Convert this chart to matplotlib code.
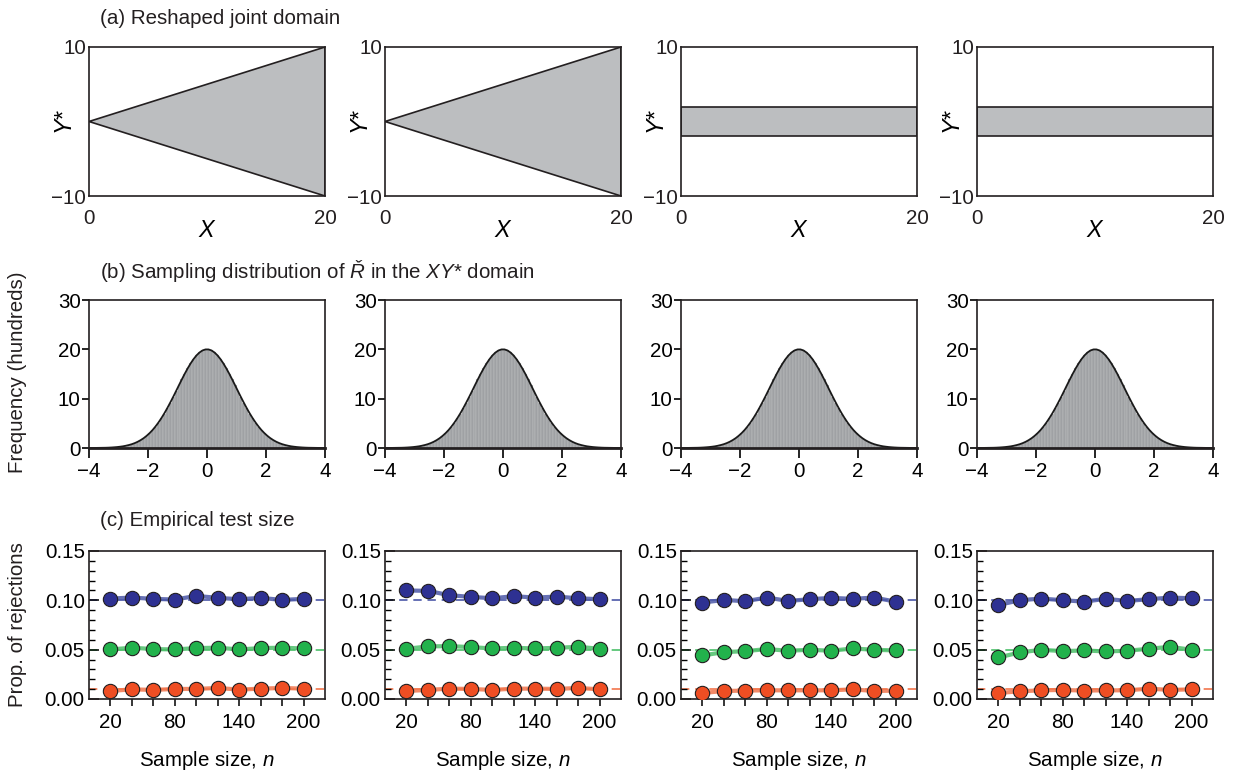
import matplotlib
matplotlib.use("Agg")
import matplotlib.pyplot as plt
import numpy as np
from matplotlib.ticker import FixedLocator, NullFormatter

plt.rcParams['font.family'] = ['Liberation Sans', 'DejaVu Sans']
plt.rcParams['mathtext.fontset'] = 'custom'
plt.rcParams['mathtext.rm'] = 'Liberation Sans'
plt.rcParams['mathtext.it'] = 'Liberation Sans:italic'
plt.rcParams['mathtext.bf'] = 'Liberation Sans:bold'
plt.rcParams['axes.unicode_minus'] = True

# ---------------- data ----------------
# (a) reshaped joint domain: vertices of the shaded regions (X, Y*)
triangle_x = [0, 20, 20]
triangle_y = [0, 10, -10]
band_x = [0, 20, 20, 0]
band_y = [-2, -2, 2, 2]
domain_shapes = ['triangle', 'triangle', 'band', 'band']

# (b) histogram of R-check (frequency in hundreds), bin width 0.1 over [-4, 4]
bin_edges = [round(-4 + 0.1 * i, 1) for i in range(81)]
half_freq = [19.98, 19.78, 19.38, 18.81, 18.07, 17.19, 16.19, 15.10, 13.94, 12.74,
             11.52, 10.32, 9.16, 8.04, 6.99, 6.02, 5.13, 4.33, 3.61, 2.99,
             2.45, 1.98, 1.59, 1.26, 0.99, 0.77, 0.60, 0.46, 0.34, 0.26,
             0.19, 0.14, 0.10, 0.07, 0.05, 0.04, 0.03, 0.02, 0.01, 0.01]
freq_hundreds = half_freq[::-1] + half_freq

# (c) empirical test size
sample_sizes = [20, 40, 60, 80, 100, 120, 140, 160, 180, 200]
nominal = [0.10, 0.05, 0.01]
rej_010 = [
    [0.1018, 0.1028, 0.1015, 0.1008, 0.1045, 0.1025, 0.1011, 0.1025, 0.1004, 0.1015],
    [0.1100, 0.1096, 0.1052, 0.1035, 0.1021, 0.1042, 0.1028, 0.1038, 0.1021, 0.1011],
    [0.0977, 0.1004, 0.0991, 0.1028, 0.0994, 0.1011, 0.1025, 0.1015, 0.1028, 0.0987],
    [0.0953, 0.1001, 0.1018, 0.1001, 0.0987, 0.1015, 0.0994, 0.1011, 0.1028, 0.1021],
]
rej_005 = [
    [0.0502, 0.0520, 0.0506, 0.0502, 0.0516, 0.0520, 0.0502, 0.0516, 0.0520, 0.0512],
    [0.0509, 0.0533, 0.0536, 0.0526, 0.0512, 0.0519, 0.0512, 0.0519, 0.0529, 0.0509],
    [0.0441, 0.0475, 0.0485, 0.0506, 0.0489, 0.0499, 0.0489, 0.0512, 0.0499, 0.0492],
    [0.0421, 0.0472, 0.0499, 0.0485, 0.0492, 0.0482, 0.0489, 0.0509, 0.0529, 0.0499],
]
rej_001 = [
    [0.0081, 0.0098, 0.0092, 0.0102, 0.0102, 0.0112, 0.0095, 0.0105, 0.0112, 0.0105],
    [0.0081, 0.0092, 0.0105, 0.0102, 0.0092, 0.0105, 0.0105, 0.0102, 0.0112, 0.0098],
    [0.0061, 0.0081, 0.0085, 0.0088, 0.0088, 0.0088, 0.0088, 0.0098, 0.0081, 0.0085],
    [0.0061, 0.0078, 0.0088, 0.0092, 0.0085, 0.0088, 0.0088, 0.0105, 0.0092, 0.0098],
]

# ---------------- styling ----------------
W, H = 1235, 775
FS = 14.8
SPINE = '#231f20'
marker_colors = ['#2e3192', '#22b24c', '#ef4e23']
line_colors = ['#4c58a8', '#4cc06a', '#f2764d']
fill_gray = '#bcbec0'
bar_gray = '#9fa1a4'

fig = plt.figure(figsize=(W / 100, H / 100), dpi=100)

lefts = [89, 385, 681, 977]
pw = 236
rows = {'a': (47, 196), 'b': (300, 448), 'c': (551, 699)}


def add_ax(left, top, bottom):
    return fig.add_axes([left / W, 1 - bottom / H, pw / W, (bottom - top) / H])


def style_spines(ax, lw=1.2):
    for s in ax.spines.values():
        s.set_color(SPINE)
        s.set_linewidth(lw)


# ---------- row (a) ----------
for i, left in enumerate(lefts):
    ax = add_ax(left, *rows['a'])
    if domain_shapes[i] == 'triangle':
        ax.fill(triangle_x, triangle_y, facecolor=fill_gray, edgecolor=SPINE, lw=1.2)
    else:
        ax.fill(band_x, band_y, facecolor=fill_gray, edgecolor=SPINE, lw=1.2)
    ax.set_xlim(0, 20)
    ax.set_ylim(-10, 10)
    ax.set_xticks([0, 20])
    ax.set_yticks([-10, 10])
    ax.tick_params(length=0, labelsize=FS, colors='#231f20')
    ax.tick_params(axis='x', pad=9)
    ax.tick_params(axis='y', pad=2)
    ax.set_xlabel('$X$', fontsize=FS + 2, va='center')
    ax.xaxis.set_label_coords(0.5, -0.23)
    ax.set_ylabel('$Y$*', fontsize=FS + 2, va='center')
    ax.yaxis.set_label_coords(-0.1, 0.5)
    style_spines(ax)

fig.text(100 / W, 1 - 18 / H, '(a) Reshaped joint domain', fontsize=FS,
         ha='left', va='center', color='#231f20')

# ---------- row (b) ----------
centers = [(bin_edges[k] + bin_edges[k + 1]) / 2 for k in range(len(freq_hundreds))]
widths = [bin_edges[k + 1] - bin_edges[k] for k in range(len(freq_hundreds))]
for i, left in enumerate(lefts):
    ax = add_ax(left, *rows['b'])
    ax.bar(centers, freq_hundreds, width=widths, color=bar_gray,
           edgecolor='#e6e6e6', linewidth=0.15, zorder=2)
    ax.plot([bin_edges[0]] + centers + [bin_edges[-1]],
            [0] + freq_hundreds + [0], color='#1a1a1a', lw=1.3, zorder=3)
    ax.set_xlim(-4, 4)
    ax.set_ylim(0, 30)
    ax.set_xticks([-4, -2, 0, 2, 4])
    ax.set_yticks([0, 10, 20, 30])
    ax.tick_params(axis='x', direction='out', length=7, width=1.2, labelsize=FS, pad=3)
    ax.tick_params(axis='y', direction='out', length=5, width=1.2, labelsize=FS, pad=1)
    style_spines(ax)
    ax.spines['bottom'].set_linewidth(2.0)
    ax.spines['bottom'].set_zorder(4)

fig.text(100 / W, 1 - 271 / H,
         r'(b) Sampling distribution of $Ř$ in the $XY$* domain',
         fontsize=FS, ha='left', va='center', color='#231f20')
fig.text(18 / W, 1 - 372 / H, 'Frequency (hundreds)', fontsize=FS,
         rotation=90, ha='center', va='center', color='#231f20')

# ---------- row (c) ----------
series = [rej_010, rej_005, rej_001]
for i, left in enumerate(lefts):
    ax = add_ax(left, *rows['c'])
    for j in range(3):
        ax.axhline(nominal[j], color=line_colors[j], lw=1.2, ls=(0, (5, 3.5)), zorder=1)
        ax.plot(sample_sizes, series[j][i], color=line_colors[j], lw=3.0,
                alpha=0.85, zorder=2, solid_capstyle='round')
        ax.plot(sample_sizes, series[j][i], ls='none', marker='o', ms=10.3,
                mfc=marker_colors[j], mec='#231f20', mew=0.8, zorder=3)
    ax.set_xlim(0, 220)
    ax.set_ylim(0, 0.15)
    ax.xaxis.set_major_locator(FixedLocator([20, 80, 140, 200]))
    ax.xaxis.set_minor_locator(FixedLocator([40, 60, 100, 120, 160, 180]))
    ax.xaxis.set_minor_formatter(NullFormatter())
    ax.yaxis.set_major_locator(FixedLocator([0.0, 0.05, 0.10, 0.15]))
    ax.yaxis.set_minor_locator(FixedLocator([k / 100 for k in range(16)]))
    ax.set_yticklabels(['0.00', '0.05', '0.10', '0.15'])
    ax.tick_params(axis='x', which='both', direction='out', length=5, width=1.1,
                   labelsize=FS, pad=5)
    ax.tick_params(axis='y', which='major', direction='in', length=7, width=1.1,
                   labelsize=FS, pad=3)
    ax.tick_params(axis='y', which='minor', direction='in', length=4.5, width=1.0)
    ax.set_xlabel('Sample size, $n$', fontsize=FS, va='center')
    ax.xaxis.set_label_coords(0.5, -0.415)
    style_spines(ax)

fig.text(100 / W, 1 - 521 / H, '(c) Empirical test size', fontsize=FS,
         ha='left', va='center', color='#231f20')
fig.text(18 / W, 1 - 625 / H, 'Prop. of rejections', fontsize=FS,
         rotation=90, ha='center', va='center', color='#231f20')

fig.savefig('out.png', dpi=100)
